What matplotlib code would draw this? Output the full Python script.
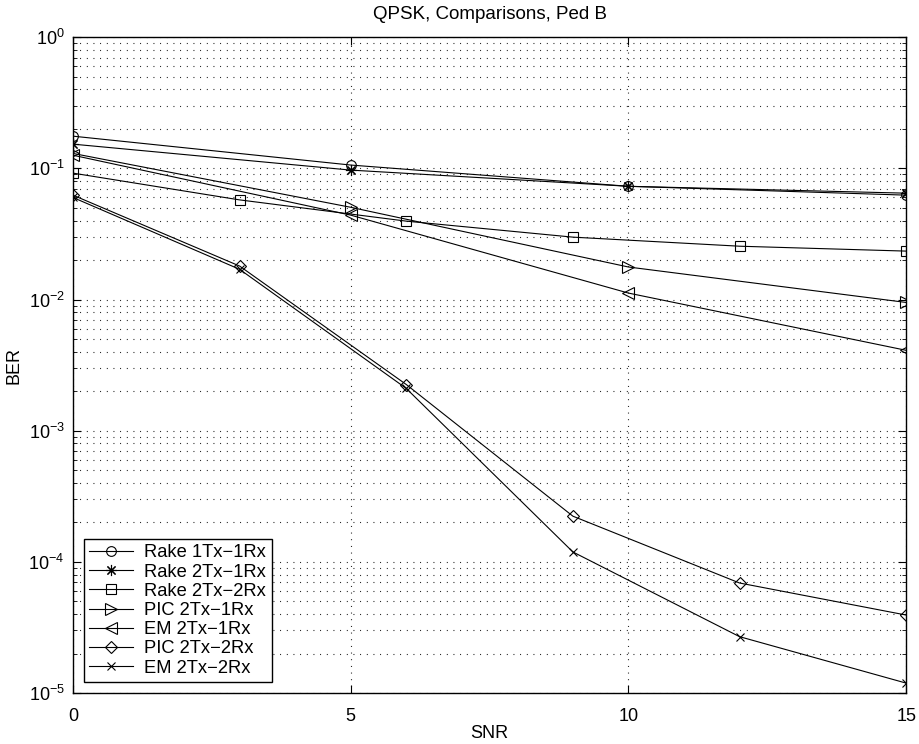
import matplotlib
matplotlib.use("Agg")
import matplotlib.pyplot as plt
from matplotlib.ticker import LogLocator, NullFormatter, FixedLocator

plt.rcParams['font.family'] = ['Liberation Sans', 'DejaVu Sans']
plt.rcParams['font.size'] = 13
plt.rcParams['mathtext.fontset'] = 'custom'
plt.rcParams['mathtext.rm'] = 'Liberation Sans'

snr_a = [0, 5, 10, 15]
snr_b = [0, 3, 6, 9, 12, 15]

rake_1tx_1rx = [0.176, 0.106, 0.073, 0.0625]
rake_2tx_1rx = [0.153, 0.097, 0.073, 0.0647]
rake_2tx_2rx = [0.092, 0.0575, 0.0396, 0.0299, 0.0255, 0.0234]
pic_2tx_1rx = [0.130, 0.0505, 0.0177, 0.0095]
em_2tx_1rx = [0.126, 0.044, 0.0112, 0.0041]
pic_2tx_2rx = [0.0625, 0.0180, 0.00225, 2.23e-4, 6.9e-5, 3.93e-5]
em_2tx_2rx = [0.0600, 0.0170, 0.00210, 1.19e-4, 2.69e-5, 1.19e-5]

asterisk = (8, 2, 0)
series = [
    (snr_a, rake_1tx_1rx, 'o', 7, "Rake 1Tx\u22121Rx"),
    (snr_a, rake_2tx_1rx, asterisk, 8, "Rake 2Tx\u22121Rx"),
    (snr_b, rake_2tx_2rx, 's', 7, "Rake 2Tx\u22122Rx"),
    (snr_a, pic_2tx_1rx, '>', 8, "PIC 2Tx\u22121Rx"),
    (snr_a, em_2tx_1rx, '<', 8, "EM 2Tx\u22121Rx"),
    (snr_b, pic_2tx_2rx, 'D', 6, "PIC 2Tx\u22122Rx"),
    (snr_b, em_2tx_2rx, 'x', 6, "EM 2Tx\u22122Rx"),
]

fig = plt.figure(figsize=(9.2, 7.44), dpi=100)
ax = fig.add_axes([0.0793, 0.0685, 0.9057, 0.8815])

for x, y, m, ms, label in series:
    ax.semilogy(x, y, marker=m, color='black', linewidth=0.8, markersize=ms,
                markerfacecolor='none', markeredgewidth=0.8, label=label)

ax.set_xlim(0, 15)
ax.set_ylim(1e-5, 1)
ax.xaxis.set_major_locator(FixedLocator([0, 5, 10, 15]))
ax.yaxis.set_major_locator(LogLocator(base=10, numticks=10))
ax.yaxis.set_minor_locator(LogLocator(base=10, subs=range(2, 10), numticks=10))
ax.yaxis.set_minor_formatter(NullFormatter())

dots = (0, (0.8, 5.2))
ax.grid(True, which='major', linestyle=dots, color='black', linewidth=0.8)
ax.grid(True, which='minor', axis='y', linestyle=dots, color='black', linewidth=0.8)
ax.tick_params(which='both', direction='in', top=True, right=True, labelsize=13)
ax.tick_params(which='major', length=6)
ax.tick_params(which='minor', length=3)
ax.tick_params(axis='x', which='major', pad=11)
ax.tick_params(axis='y', which='major', pad=6)
for s in ax.spines.values():
    s.set_linewidth(1.0)

ax.set_xlabel("SNR", fontsize=13, labelpad=0)
ax.set_ylabel("BER", fontsize=13, labelpad=4)
ax.set_title("QPSK, Comparisons, Ped B", fontsize=13.5, pad=13)

leg = ax.legend(loc='lower left', fancybox=False, edgecolor='black', framealpha=1,
                handlelength=2.4, handletextpad=0.6, borderaxespad=0.6,
                borderpad=0.3, labelspacing=0.12, fontsize=13.2)
leg.get_frame().set_linewidth(1.0)

fig.savefig("out.png", dpi=100)
